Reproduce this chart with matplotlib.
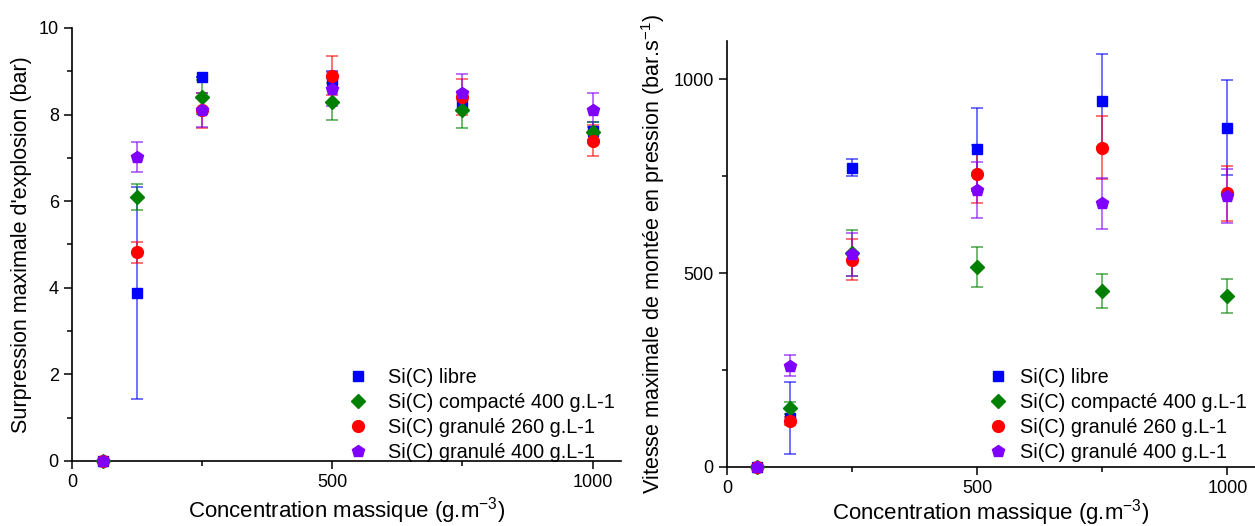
import matplotlib
matplotlib.use("Agg")
import matplotlib.pyplot as plt
from matplotlib.ticker import MultipleLocator

plt.rcParams['font.family'] = ['Liberation Sans', 'DejaVu Sans']
plt.rcParams['mathtext.fontset'] = 'custom'
plt.rcParams['mathtext.rm'] = 'Liberation Sans'
plt.rcParams['mathtext.it'] = 'Liberation Sans'

# concentration (g.m-3)
conc = [60, 125, 250, 500, 750, 1000]

labels = ['Si(C) libre', 'Si(C) compacté 400 g.L-1',
          'Si(C) granulé 260 g.L-1', 'Si(C) granulé 400 g.L-1']

# Pmax (bar)
pmax_libre = [0, 3.87, 8.86, 8.81, 8.26, 7.62]
pmax_libre_err = [0, 2.45, 0, 0.2, 0.15, 0.2]
pmax_comp = [0, 6.1, 8.41, 8.30, 8.11, 7.59]
pmax_comp_err = [0, 0.3, 0.4, 0.42, 0.42, 0.25]
pmax_gr260 = [0, 4.82, 8.1, 8.90, 8.40, 7.40]
pmax_gr260_err = [0, 0.24, 0.4, 0.45, 0.42, 0.36]
pmax_gr400 = [0, 7.02, 8.11, 8.59, 8.51, 8.11]
pmax_gr400_err = [0, 0.35, 0.4, 0.4, 0.42, 0.4]

# (dP/dt)max (bar.s-1)
dpdt_libre = [0, 126, 772, 820, 945, 876]
dpdt_libre_err = [0, 93, 22, 107, 120, 122]
dpdt_comp = [0, 152, 553, 516, 454, 441]
dpdt_comp_err = [0, 15, 59, 51, 45, 44]
dpdt_gr260 = [0, 118, 535, 756, 824, 706]
dpdt_gr260_err = [0, 10, 53, 75, 81, 71]
dpdt_gr400 = [0, 261, 549, 714, 680, 699]
dpdt_gr400_err = [0, 27, 56, 72, 67, 70]

colors = ['#0000ff', '#008000', '#ff0000', '#8000ff']
markers = ['s', 'D', 'o', 'p']
msizes = [7, 7.5, 8.5, 9]

fig = plt.figure(figsize=(12.55, 5.26), dpi=100)
ax1 = fig.add_axes([0.0574, 0.1236, 0.4376, 0.8232])
ax2 = fig.add_axes([0.5793, 0.1122, 0.4207, 0.8104])

left_series = [(pmax_libre, pmax_libre_err), (pmax_comp, pmax_comp_err),
               (pmax_gr260, pmax_gr260_err), (pmax_gr400, pmax_gr400_err)]
right_series = [(dpdt_libre, dpdt_libre_err), (dpdt_comp, dpdt_comp_err),
                (dpdt_gr260, dpdt_gr260_err), (dpdt_gr400, dpdt_gr400_err)]

handles = {}
for ax, series in [(ax1, left_series), (ax2, right_series)]:
    hs = []
    for (vals, errs), c, m, ms, lab in zip(series, colors, markers, msizes, labels):
        eb = ax.errorbar(conc, vals, yerr=errs, fmt=m, color=c, ms=ms,
                         mec=c, ecolor=c, elinewidth=1.3, capsize=4,
                         capthick=1.3, label=lab, clip_on=False, zorder=3)
        for line in eb[1]:
            line.set_alpha(0.6)
        for line in eb[2]:
            line.set_alpha(0.6)
        hs.append(eb[0])
    handles[ax] = hs

    for s in ['top', 'right']:
        ax.spines[s].set_visible(False)
    ax.spines['left'].set_linewidth(1.2)
    ax.spines['bottom'].set_linewidth(1.2)
    ax.set_xlim(0, 1055)
    ax.xaxis.set_major_locator(MultipleLocator(500))
    ax.xaxis.set_minor_locator(MultipleLocator(250))
    ax.tick_params(which='both', direction='out', width=1.1, labelsize=13)
    ax.tick_params(which='major', length=6)
    ax.tick_params(which='minor', length=3.5)

ax1.set_xlabel('Concentration massique (g.m$^{-3}$)', fontsize=16, labelpad=3)
ax2.set_xlabel('Concentration massique (g.m$^{-3}$)', fontsize=16, labelpad=0)

ax1.set_ylim(0, 10)
ax1.yaxis.set_major_locator(MultipleLocator(2))
ax1.yaxis.set_minor_locator(MultipleLocator(1))
ax1.set_ylabel("Surpression maximale d'explosion (bar)", fontsize=15.5, labelpad=5)

ax2.set_ylim(0, 1100)
ax2.yaxis.set_major_locator(MultipleLocator(500))
ax2.yaxis.set_minor_locator(MultipleLocator(250))
ax2.set_ylabel('Vitesse maximale de montée en pression (bar.s$^{-1}$)', fontsize=15.5, labelpad=5)

ax1.legend(handles=handles[ax1], labels=labels, loc='lower left',
           bbox_to_anchor=(0.46, -0.035), frameon=False, fontsize=14.3,
           handletextpad=0.5, labelspacing=0.3, borderpad=0.2)
ax2.legend(handles=handles[ax2], labels=labels, loc='lower left',
           bbox_to_anchor=(0.45, -0.02), frameon=False, fontsize=14.3,
           handletextpad=0.1, labelspacing=0.3, borderpad=0.2)

fig.savefig('out.png', dpi=100)
